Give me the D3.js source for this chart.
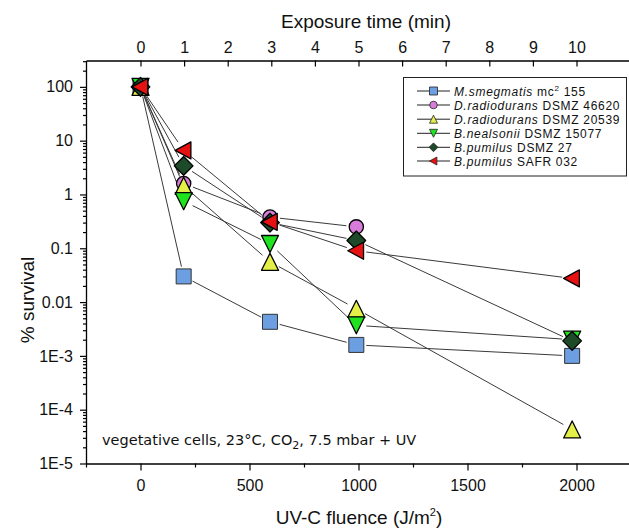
<!DOCTYPE html>
<html>
<head>
<meta charset="utf-8">
<script src="https://cdn.jsdelivr.net/npm/d3@7"></script>
<style>
  html, body { margin: 0; padding: 0; background: #ffffff; }
  svg { display: block; }
</style>
</head>
<body>
<div id="chart"></div>
<script>
// ---- data ----
const fluence = [0, 198, 594, 990, 1980];           // J/m^2
const smegmatis   = [100, 0.030, 0.0043, 0.0016, 0.0010];
const radio46620  = [100, 1.6, 0.38, 0.25, null];
const radio20539  = [100, 1.45, 0.056, 0.0075, 0.000043];
const nealsonii   = [100, 0.75, 0.12, 0.0037, 0.0020];
const pumilus27   = [100, 3.4, 0.30, 0.14, 0.0019];
const pumilusSAFR = [100, 6.6, 0.31, 0.09, 0.0275];

const seriesNames = [
  ["M.smegmatis", " mc", "2", " 155"],
  ["D.radiodurans", " DSMZ 46620"],
  ["D.radiodurans", " DSMZ 20539"],
  ["B.nealsonii", " DSMZ 15077"],
  ["B.pumilus", " DSMZ 27"],
  ["B.pumilus", " SAFR 032"]
];
const seriesValues = [smegmatis, radio46620, radio20539, nealsonii, pumilus27, pumilusSAFR];
const seriesShapes = ["square", "circle", "triUp", "triDown", "diamond", "triLeft"];
const seriesColors = ["#6c9fe2", "#d77cd9", "#e4ef48", "#1fe31f", "#1d4a28", "#e61212"];

const xTicks = [0, 500, 1000, 1500, 2000];
const xMinorTicks = [-250, 250, 750, 1250, 1750, 2250];
const timeTicks = [0, 1, 2, 3, 4, 5, 6, 7, 8, 9, 10];
const yTicks = [100, 10, 1, 0.1, 0.01, 1e-3, 1e-4, 1e-5];
const yTickLabels = ["100", "10", "1", "0.1", "0.01", "1E-3", "1E-4", "1E-5"];
const fluencePerMinute = 200;

// ---- layout ----
const W = 629, H = 530;
const L = 86, R = 631, T = 60.5, B = 463.5;

const svg = d3.select("#chart").append("svg").attr("width", W).attr("height", H);

const x = d3.scaleLinear().domain([-250, 2250]).range([L, R]);
const xt = d3.scaleLinear().domain([-250 / fluencePerMinute, 2250 / fluencePerMinute]).range([L, R]);
const y = d3.scaleLog().domain([1e-5, Math.pow(10, 2.49)]).range([B, T]);

const axisFont = "'Liberation Sans', Arial, sans-serif";

// bottom axis
svg.append("g").attr("transform", `translate(0,${B})`)
  .call(d3.axisBottom(x).tickValues(xTicks).tickSize(7).tickSizeOuter(0).tickPadding(9).tickFormat(d3.format("d")));
svg.append("g").attr("transform", `translate(0,${B})`)
  .call(d3.axisBottom(x).tickValues(xMinorTicks.filter(v => x(v) < W)).tickSize(4).tickSizeOuter(0).tickFormat(""))
  .select(".domain").remove();

// top axis (inward ticks)
const gt = svg.append("g").attr("transform", `translate(0,${T})`)
  .call(d3.axisTop(xt).tickValues(timeTicks).tickSize(0).tickSizeOuter(0).tickPadding(8).tickFormat(d3.format("d")));
gt.selectAll(".tick line").attr("y2", 6);

// left axis
svg.append("g").attr("transform", `translate(${L},0)`)
  .call(d3.axisLeft(y).tickValues(yTicks).tickSize(6).tickSizeOuter(0).tickPadding(7)
    .tickFormat((d, i) => yTickLabels[i]));
const minorY = [];
for (let e = -5; e <= 2; e++) {
  for (let m = 2; m <= 9; m++) {
    const v = m * Math.pow(10, e);
    if (y(v) >= T - 0.5) minorY.push(v);
  }
}
svg.append("g").attr("transform", `translate(${L},0)`)
  .call(d3.axisLeft(y).tickValues(minorY).tickSize(3).tickFormat(""))
  .select(".domain").remove();

svg.selectAll(".domain").attr("stroke", "#000").attr("stroke-width", 1.3);
svg.selectAll(".tick line").attr("stroke", "#000").attr("stroke-width", 1.2);
svg.selectAll(".tick text").attr("font-family", axisFont).attr("font-size", 16).attr("fill", "#111");

// axis titles
svg.append("text").attr("x", 359).attr("y", 524).attr("text-anchor", "middle")
  .attr("font-family", axisFont).attr("font-size", 19).attr("fill", "#111")
  .html('UV-C fluence (J/m<tspan dy="-8" font-size="11">2</tspan><tspan dy="8">)</tspan>');
svg.append("text").attr("x", 366).attr("y", 28).attr("text-anchor", "middle")
  .attr("font-family", axisFont).attr("font-size", 19).attr("fill", "#111")
  .text("Exposure time (min)");
svg.append("text").attr("transform", "translate(34,300) rotate(-90)").attr("text-anchor", "middle")
  .attr("font-family", axisFont).attr("font-size", 19).attr("fill", "#111")
  .text("% survival");

// annotation
svg.append("text").attr("x", 102).attr("y", 445)
  .attr("font-family", "'DejaVu Sans', Verdana, sans-serif").attr("font-size", 14.5).attr("fill", "#111")
  .html('vegetative cells, 23°C, CO<tspan dy="4" font-size="11">2</tspan><tspan dy="-4">, 7.5 mbar + UV</tspan>');

// ---- marker shapes ----
function shapePath(shape, s) {
  const h = s / 2;
  switch (shape) {
    case "square": return `M${-h},${-h}H${h}V${h}H${-h}Z`;
    case "circle": return d3.arc()({innerRadius: 0, outerRadius: h * 0.95, startAngle: 0, endAngle: 2 * Math.PI});
    case "triUp": return `M0,${-h}L${h},${h}L${-h},${h}Z`;
    case "triDown": return `M0,${h}L${h},${-h}L${-h},${-h}Z`;
    case "diamond": return `M0,${-h * 1.1}L${h * 1.1},0L0,${h * 1.1}L${-h * 1.1},0Z`;
    case "triLeft": return `M${-h},0L${h * 0.85},${-h}L${h * 0.85},${h}Z`;
  }
}
const markerSize = [15, 15, 17, 17, 17, 17];

// ---- lines with gaps ----
const lineG = svg.append("g");
const gap = 10;
seriesValues.forEach((vals, si) => {
  const pts = fluence.map((f, i) => vals[i] == null ? null : [x(f), y(vals[i])]).filter(p => p);
  for (let i = 0; i < pts.length - 1; i++) {
    const [x1, y1] = pts[i], [x2, y2] = pts[i + 1];
    const dx = x2 - x1, dy = y2 - y1, len = Math.hypot(dx, dy);
    if (len < 2 * gap) continue;
    const ux = dx / len, uy = dy / len;
    lineG.append("line")
      .attr("x1", x1 + ux * gap).attr("y1", y1 + uy * gap)
      .attr("x2", x2 - ux * gap).attr("y2", y2 - uy * gap)
      .attr("stroke", "#3a3a3a").attr("stroke-width", 1);
  }
});

// ---- markers ----
const markG = svg.append("g");
seriesValues.forEach((vals, si) => {
  fluence.forEach((f, i) => {
    if (vals[i] == null) return;
    markG.append("path")
      .attr("d", shapePath(seriesShapes[si], markerSize[si]))
      .attr("transform", `translate(${x(f)},${y(vals[i])})`)
      .attr("fill", seriesColors[si])
      .attr("stroke", si === 0 ? "#333" : "#000")
      .attr("stroke-width", si === 0 ? 1 : 1.3)
      .attr("stroke-linejoin", "round");
  });
});

// ---- legend ----
const lg = svg.append("g");
lg.append("rect").attr("x", 403.5).attr("y", 77.5).attr("width", 223).attr("height", 98.5)
  .attr("fill", "#fff").attr("stroke", "#222").attr("stroke-width", 1);
const legY = [91, 105, 119.2, 133.3, 147.3, 161];
seriesNames.forEach((nm, si) => {
  const yy = legY[si];
  lg.append("line").attr("x1", 417).attr("x2", 450).attr("y1", yy).attr("y2", yy)
    .attr("stroke", "#222").attr("stroke-width", 1);
  lg.append("path").attr("d", shapePath(seriesShapes[si], 8))
    .attr("transform", `translate(433.5,${yy})`)
    .attr("fill", seriesColors[si]).attr("stroke", "#222").attr("stroke-width", 0.8);
  const t = lg.append("text").attr("x", 454).attr("y", yy + 4.5)
    .attr("font-family", axisFont).attr("font-size", 12).attr("letter-spacing", 0.7).attr("fill", "#111");
  t.append("tspan").attr("font-style", "italic").text(nm[0]);
  if (nm.length === 4) {
    t.append("tspan").text(nm[1]);
    t.append("tspan").attr("dy", -5).attr("font-size", 8).text(nm[2]);
    t.append("tspan").attr("dy", 5).text(nm[3]);
  } else {
    t.append("tspan").text(nm[1]);
  }
});
</script>
</body>
</html>
